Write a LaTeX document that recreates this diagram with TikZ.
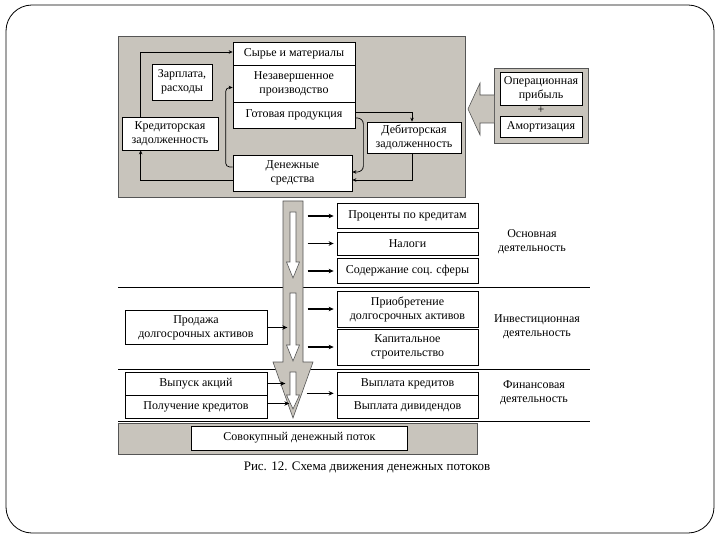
\documentclass[tikz,border=0pt]{standalone}
\usepackage{fontspec}
\setmainfont{Liberation Serif}
\usetikzlibrary{arrows.meta}
\definecolor{panel}{RGB}{200,196,188}
\definecolor{edge}{RGB}{85,85,85}
\tikzset{
 bx/.style={draw=black, line width=0.7pt, fill=white, inner sep=1pt, align=center, font=\fontsize{12}{14}\selectfont},
 panelbox/.style={draw=edge, line width=0.7pt, fill=panel, inner sep=0pt},
 arr/.style={-{Stealth[length=4pt,width=3.5pt]}, line width=0.7pt},
 barr/.style={-{Stealth[length=5pt,width=4.5pt]}, line width=1.3pt, shorten >=3pt},
 lbl/.style={align=center, font=\fontsize{12}{14}\selectfont},
 rule/.style={line width=0.8pt, draw=black},
 wa/.style={fill=white, draw=edge, line width=0.6pt},
 ga/.style={fill=panel, draw=edge, line width=0.6pt},
}
\begin{document}
\begin{tikzpicture}[x=1pt,y=-1pt]
\useasboundingbox (0,0) rectangle (720,540);
\draw[line width=0.8pt, rounded corners=26pt] (6,5) rectangle (714,533);

% top panel
\node[panelbox, minimum width=347pt, minimum height=161pt] (top) at (291.5,116.5) {};
\node[bx, minimum width=122pt, minimum height=23pt] (syr) at (294,53.5) {Сырье и материалы};
\node[bx, minimum width=122pt, minimum height=37pt] (nez) at (294,83.5) {Незавершенное\\производство};
\node[bx, minimum width=122pt, minimum height=26pt] (got) at (294,115) {Готовая продукция};
\node[bx, minimum width=60pt, minimum height=36pt] (zar) at (182,82) {Зарплата,\\расходы};
\node[bx, minimum width=96pt, minimum height=33pt] (kred) at (170,133.5) {Кредиторская\\задолженность};
\node[bx, minimum width=119pt, minimum height=36pt] (den) at (292.5,173) {Денежные\\средства};
\node[bx, minimum width=94pt, minimum height=31pt] (deb) at (414,137.5) {Дебиторская\\задолженность};

\draw[arr] ([xshift=19pt]kred.north west) |- ([yshift=1.5pt]syr.west);
\draw[arr, rounded corners=4pt] ([yshift=6pt]den.west) -- ++(-7,0) |- ([yshift=-4pt]nez.west);
\draw[arr] ([yshift=-7pt]den.west) -| ([xshift=19pt]kred.south west);
\draw[arr] ([yshift=3pt]got.east) -| ([xshift=-2pt]deb.north);
\draw[arr, rounded corners=6pt] ([yshift=-3pt]got.east) -- ++(8,0) |- ([yshift=1pt]den.east);
\draw[arr] ([xshift=-2pt]deb.south) |- ([yshift=-7pt]den.east);

% right panel
\node[panelbox, minimum width=94pt, minimum height=75pt] (opb) at (541,105.5) {};
\node[bx, minimum width=82pt, minimum height=33pt] (opr) at (541,88.5) {Операционная\\прибыль};
\node[font=\fontsize{12}{14}\selectfont, inner sep=0pt] (plus) at (541,110) {+};
\node[bx, minimum width=82pt, minimum height=21pt] (am) at (541,126.5) {Амортизация};
\draw[ga] (494,95) -- (480,95) -- (480,83) -- (468,109) -- (480,135) -- (480,123) -- (494,123);

% section rules
\draw[rule] (118,287) -- (590,287);
\draw[rule] (118,369) -- (590,369);
\draw[rule] (118,421) -- (590,421);

% big arrow
\draw[ga] (283,201) -- (303,201) -- (303,362) -- (313,362) -- (293,418) -- (273,362) -- (283,362) -- cycle;
\draw[wa] (290,212) -- (296,212) -- (296,262) -- (299.5,262) -- (293,278) -- (286.5,262) -- (290,262) -- cycle;
\draw[wa] (290,293) -- (296,293) -- (296,345) -- (299.5,345) -- (293,361) -- (286.5,345) -- (290,345) -- cycle;
\draw[wa] (290,372) -- (296,372) -- (296,395) -- (299.5,395) -- (293,409) -- (286.5,395) -- (290,395) -- cycle;

% right column
\node[bx, minimum width=141pt, minimum height=25pt] (proc) at (407.5,216) {Проценты по кредитам};
\node[bx, minimum width=141pt, minimum height=23pt] (nal) at (407.5,243.5) {Налоги};
\node[bx, minimum width=141pt, minimum height=25pt] (sod) at (407.5,271) {Содержание соц. сферы};
\node[bx, minimum width=141pt, minimum height=36pt] (prio) at (407.5,309) {Приобретение\\долгосрочных активов};
\node[bx, minimum width=141pt, minimum height=36pt] (kap) at (407.5,347) {Капитальное\\строительство};
\node[bx, minimum width=141pt, minimum height=23pt] (vyk) at (407.5,383.5) {Выплата кредитов};
\node[bx, minimum width=141pt, minimum height=23pt] (div) at (407.5,406.5) {Выплата дивидендов};

% left column
\node[bx, minimum width=142pt, minimum height=34pt] (prod) at (196,327.5) {Продажа\\долгосрочных активов};
\node[bx, minimum width=142pt, minimum height=23pt] (vyp) at (196,383.5) {Выпуск акций};
\node[bx, minimum width=142pt, minimum height=23pt] (pol) at (196,406.5) {Получение кредитов};

\draw[barr] ([xshift=-29pt]proc.west) -- (proc.west);
\draw[barr] ([xshift=-29pt]nal.west) -- (nal.west);
\draw[barr] ([xshift=-29pt]sod.west) -- (sod.west);
\draw[barr] ([xshift=-29pt]prio.west) -- (prio.west);
\draw[barr] ([xshift=-29pt]kap.west) -- (kap.west);
\draw[barr] ([xshift=-30pt,yshift=2pt]vyk.south west) -- ([yshift=2pt]vyk.south west);
\draw[barr, shorten >=0pt] ([xshift=1pt]prod.east) -- ++(19,0);
\draw[barr, shorten >=0pt] ([xshift=1pt]vyp.east) -- ++(17,0);
\draw[barr, shorten >=0pt] ([xshift=1pt,yshift=3pt]pol.east) -- ++(21,0);

% labels
\node[lbl] (l1) at (532,242) {Основная\\деятельность};
\node[lbl] (l2) at (537,327) {Инвестиционная\\деятельность};
\node[lbl] (l3) at (534,393) {Финансовая\\деятельность};

% bottom bar
\node[panelbox, minimum width=359pt, minimum height=31pt] (bot) at (297.5,438.5) {};
\node[bx, minimum width=216pt, minimum height=24pt] (sov) at (299.5,438) {Совокупный денежный поток};
\node[font=\fontsize{13}{15}\selectfont, inner sep=0pt] (cap) at (367,467) {Рис. 12. Схема движения денежных потоков};
\end{tikzpicture}
\end{document}
